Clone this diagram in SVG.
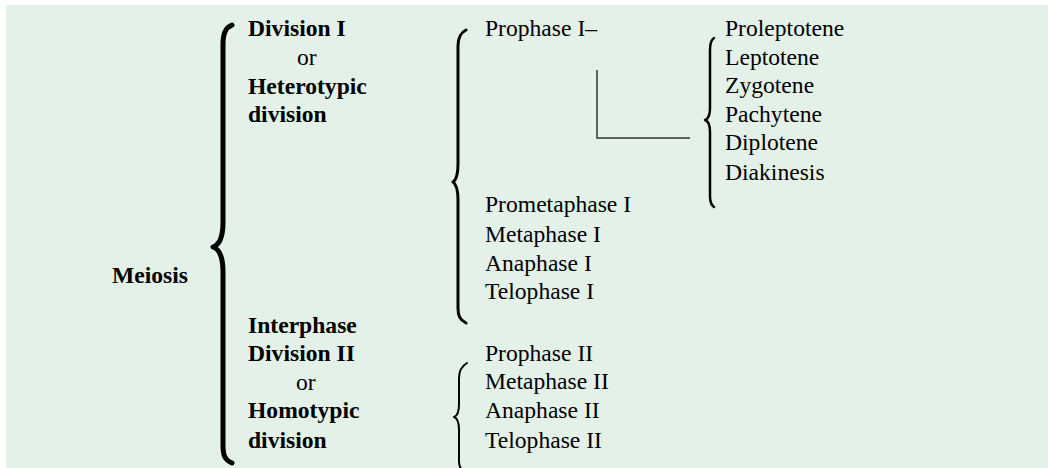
<svg xmlns="http://www.w3.org/2000/svg" width="1048" height="468" viewBox="0 0 1048 468">
<style>
text{font-family:"Liberation Serif","Times New Roman",serif;font-size:23.6px;fill:#000}
.b{font-weight:bold}
.br{fill:none;stroke:#000;stroke-linecap:round;stroke-linejoin:round}
.cn{fill:none;stroke:#333;stroke-width:1.5}
</style>
<rect x="6" y="5" width="1042" height="463" fill="#e3f1e9"/>
<g id="braces">
<path class="br" stroke-width="5" d="M232,25 C225,28 223,34 223,45 L223,222 C223,238 219,245 213,247 C219,249 223,256 223,272 L223,445 C223,456 225,460 232,463"/>
<path class="br" stroke-width="3" d="M466,30 C460,33 458,38 458,46 L458,164 C458,175 456,180 453,182 C456,184 458,189 458,200 L458,308 C458,316 460,320 466,323"/>
<path class="br" stroke-width="2" d="M467,363 C462,366 459,370 459,378 L459,404 C459,412 457,416 454,417 C457,418 459,422 459,430 L459,462 C459,468 462,471 467,473"/>
<path class="br" stroke-width="2.5" d="M714,38 C711,40 710,44 710,50 L710,108 C710,115 708,119 705,120 C708,121 710,125 710,132 L710,196 C710,202 711,205 714,207"/>
</g>
<g id="connectors">
<path class="cn" d="M597,70 L597,138 L690,138"/>
</g>
<g id="meiosis"><text class="b" x="112" y="283">Meiosis</text></g>
<g id="division1">
<text class="b" x="248" y="35.5">Division I</text>
<text x="297" y="65">or</text>
<text class="b" x="248" y="94">Heterotypic</text>
<text class="b" x="248" y="122">division</text>
</g>
<g id="division2">
<text class="b" x="248" y="333">Interphase</text>
<text class="b" x="248" y="361">Division II</text>
<text x="296" y="390">or</text>
<text class="b" x="248" y="418">Homotypic</text>
<text class="b" x="248" y="448">division</text>
</g>
<g id="phases1">
<text x="485" y="36">Prophase I–</text>
<text x="485" y="212">Prometaphase I</text>
<text x="485" y="242">Metaphase I</text>
<text x="485" y="271">Anaphase I</text>
<text x="485" y="299">Telophase I</text>
</g>
<g id="phases2">
<text x="485" y="361">Prophase II</text>
<text x="485" y="389">Metaphase II</text>
<text x="485" y="418">Anaphase II</text>
<text x="485" y="448">Telophase II</text>
</g>
<g id="prophase-stages">
<text x="725" y="36">Proleptotene</text>
<text x="725" y="65">Leptotene</text>
<text x="725" y="93">Zygotene</text>
<text x="725" y="122">Pachytene</text>
<text x="725" y="150">Diplotene</text>
<text x="725" y="180">Diakinesis</text>
</g>
</svg>
